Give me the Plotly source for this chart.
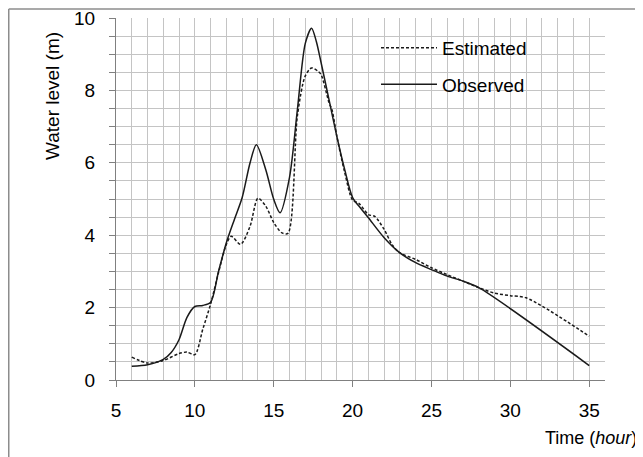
import plotly.graph_objects as go

# Observed water level (m) vs time (hour)
obs_t = [6, 7, 8, 8.5, 9, 9.5, 10, 10.5, 11, 11.5, 12, 12.5, 13, 13.5, 13.9, 14.5, 15, 15.4,
         16, 16.5, 17, 17.4, 17.7, 18, 18.5, 19, 19.5, 20, 20.5, 21, 22, 23, 24, 25, 26, 27, 28, 35]
obs_h = [0.38, 0.42, 0.57, 0.76, 1.12, 1.73, 2.03, 2.06, 2.15, 3.0, 3.8, 4.43, 5.04, 6.0, 6.5, 5.8, 4.99, 4.62,
         5.6, 7.47, 9.3, 9.72, 9.35, 8.77, 7.75, 6.73, 5.81, 5.04, 4.75, 4.48, 3.93, 3.51, 3.24, 3.05, 2.87, 2.73, 2.55, 0.40]

# Estimated water level (m) vs time (hour)
est_t = [6, 7, 8, 9, 9.5, 10, 10.5, 11, 11.5, 12, 12.3, 12.9, 13.5, 14, 14.5, 15, 15.5, 15.9,
         16.5, 17, 17.4, 17.8, 18, 18.5, 18.7, 19, 19.5, 20, 20.4, 21, 21.4, 22, 22.5, 23, 24, 25, 26, 27, 28,
         29, 30, 31, 35]
est_h = [0.63, 0.47, 0.54, 0.73, 0.77, 0.70, 1.4, 2.1, 2.97, 3.75, 3.97, 3.75, 4.25, 5.02, 4.8, 4.35, 4.07, 4.05,
         7.3, 8.4, 8.62, 8.53, 8.44, 7.67, 7.45, 6.73, 5.73, 4.97, 4.88, 4.57, 4.52, 4.16, 3.74, 3.51, 3.33, 3.1, 2.91, 2.73, 2.55,
         2.4, 2.33, 2.27, 1.21]

FONT = "Liberation Sans, Arial, sans-serif"
FS = 19
GRID = "#c4c4c4"
AXIS = "#808080"

W, H = 635, 449
L, R, T, B = 108, 38, 10, 77
PW, PH = W - L - R, H - T - B


def px_to_paper_x(px):
    return (px - L) / PW


def px_to_paper_y(py):
    return (H - B - py) / PH


fig = go.Figure()
fig.add_trace(go.Scatter(x=est_t, y=est_h, name="Estimated", mode="lines", showlegend=True,
                         line=dict(color="#1a1a1a", width=1.5, dash="3px,2px", shape="spline", smoothing=0.8),
                         legend="legend"))
fig.add_trace(go.Scatter(x=obs_t, y=obs_h, name="Observed", mode="lines", showlegend=True,
                         line=dict(color="#1a1a1a", width=1.5, shape="spline", smoothing=0.8),
                         legend="legend2"))

border = dict(color="#8c8c8c", width=1.5)
bx = px_to_paper_x(0.75)
by = px_to_paper_y(1.0)

fig.update_layout(
    template="none",
    width=W, height=H,
    margin=dict(l=L, r=R, t=T, b=B, autoexpand=False),
    paper_bgcolor="white", plot_bgcolor="white",
    showlegend=True,
    font=dict(family=FONT, size=FS, color="black"),
    legend=dict(x=px_to_paper_x(368), y=px_to_paper_y(40), xanchor="left", yanchor="middle",
                bgcolor="rgba(0,0,0,0)", itemwidth=56, font=dict(size=FS), borderwidth=0, visible=True),
    legend2=dict(x=px_to_paper_x(368), y=px_to_paper_y(76.5), xanchor="left", yanchor="middle",
                 bgcolor="rgba(0,0,0,0)", itemwidth=56, font=dict(size=FS), borderwidth=0, visible=True),
    xaxis=dict(range=[5, 36], tick0=5, dtick=5, showgrid=True, gridcolor=GRID, gridwidth=1,
               zeroline=False, showline=True, linecolor=AXIS, linewidth=1, automargin=False,
               ticks="outside", ticklen=6, tickcolor=AXIS, ticklabelstandoff=7, ticklabeloverflow="allow",
               minor=dict(dtick=1, showgrid=True, gridcolor=GRID, gridwidth=1, ticks="")),
    yaxis=dict(range=[0, 10], tick0=0, dtick=2, showgrid=True, gridcolor=GRID, gridwidth=1,
               zeroline=False, showline=True, linecolor=AXIS, linewidth=1, automargin=False,
               ticks="outside", ticklen=6, tickcolor=AXIS, ticklabelstandoff=10, ticklabeloverflow="allow",
               minor=dict(dtick=0.5, showgrid=True, gridcolor=GRID, gridwidth=1,
                          ticks="outside", ticklen=6, tickcolor=AXIS)),
    annotations=[
        dict(text="Water level (m)", xref="paper", yref="paper", x=px_to_paper_x(44), y=px_to_paper_y(88),
             textangle=-90, showarrow=False, xanchor="center", yanchor="middle",
             font=dict(size=FS, family=FONT)),
        dict(text="Time (<i>hour</i>)", xref="paper", yref="paper", x=px_to_paper_x(631), y=px_to_paper_y(430),
             showarrow=False, xanchor="right", yanchor="middle", font=dict(size=18, family=FONT)),
    ],
    shapes=[
        dict(type="line", xref="paper", yref="paper", x0=bx, x1=bx, y0=px_to_paper_y(H + 20), y1=by,
             line=border, layer="above"),
        dict(type="line", xref="paper", yref="paper", x0=bx, x1=px_to_paper_x(W + 20), y0=by, y1=by,
             line=border, layer="above"),
    ],
)

fig.write_html("out.html")
